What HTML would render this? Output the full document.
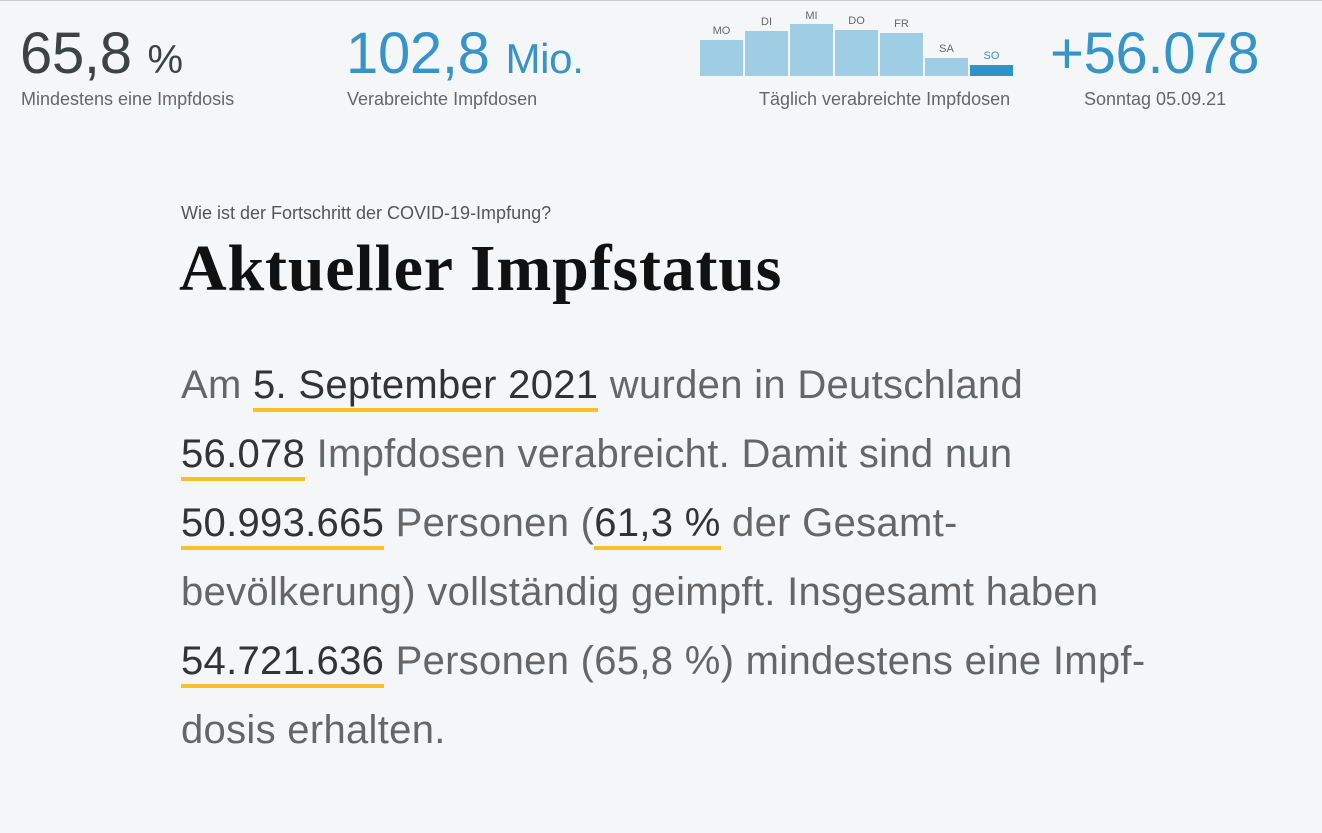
<!DOCTYPE html>
<html><head><meta charset="utf-8"><style>
body{margin:0;width:1322px;height:833px;background:#f5f6f8;font-family:"Liberation Sans",sans-serif;position:relative;overflow:hidden;border-top:1px solid #ccc;box-sizing:border-box}
.a{position:absolute;white-space:nowrap}
.big{font-size:58px;line-height:58px;letter-spacing:-0.3px}
.lbl{font-size:18px;color:#666}
.bar{position:absolute;background:#9ecde4;bottom:757px}
.bl{position:absolute;font-size:11px;color:#666;text-align:center;width:43px}
.t{position:absolute;left:181px;font-size:40px;color:#666;white-space:nowrap;letter-spacing:0.3px}
.u{color:#333;border-bottom:4px solid #fbbf2a;padding-bottom:1px}
</style></head><body>
<div class="a big" style="left:20px;top:24px;color:#3b4345">65,8 <span style="font-size:40px">%</span></div>
<div class="a lbl" style="left:21px;top:88px">Mindestens eine Impfdosis</div>
<div class="a big" style="left:346px;top:24px;color:#3694c8">102,8 <span style="font-size:42px">Mio.</span></div>
<div class="a lbl" style="left:347px;top:88px">Verabreichte Impfdosen</div>
<div class="bar" style="left:700px;width:43px;height:36px"></div>
<div class="bar" style="left:745px;width:43px;height:45px"></div>
<div class="bar" style="left:790px;width:43px;height:52px"></div>
<div class="bar" style="left:835px;width:43px;height:46px"></div>
<div class="bar" style="left:880px;width:43px;height:43px"></div>
<div class="bar" style="left:925px;width:43px;height:18px"></div>
<div class="bar" style="left:970px;width:43px;height:11px;background:#3192c6"></div>
<div class="bl" style="left:700px;top:24px">MO</div>
<div class="bl" style="left:745px;top:15px">DI</div>
<div class="bl" style="left:790px;top:9px">MI</div>
<div class="bl" style="left:835px;top:14px">DO</div>
<div class="bl" style="left:880px;top:17px">FR</div>
<div class="bl" style="left:925px;top:42px">SA</div>
<div class="bl" style="left:970px;top:49px;color:#3192c6">SO</div>
<div class="a lbl" style="left:759px;top:88px">Täglich verabreichte Impfdosen</div>
<div class="a big" style="left:1050px;top:24px;color:#3694c8">+56.078</div>
<div class="a lbl" style="left:1084px;top:88px">Sonntag 05.09.21</div>
<div class="a" style="left:181px;top:202px;font-size:18px;color:#555">Wie ist der Fortschritt der COVID-19-Impfung?</div>
<div class="a" style="left:179px;top:230px;font-family:'Liberation Serif',serif;font-weight:bold;font-size:66px;letter-spacing:0.8px;color:#111">Aktueller Impfstatus</div>
<div class="t" style="top:362px">Am <span class="u">5. September 2021</span> wurden in Deutschland</div>
<div class="t" style="top:431px"><span class="u">56.078</span> Impfdosen verabreicht. Damit sind nun</div>
<div class="t" style="top:500px"><span class="u">50.993.665</span> Personen (<span class="u">61,3 %</span> der Gesamt-</div>
<div class="t" style="top:569px">bevölkerung) vollständig geimpft. Insgesamt haben</div>
<div class="t" style="top:638px"><span class="u">54.721.636</span> Personen (65,8 %) mindestens eine Impf-</div>
<div class="t" style="top:707px">dosis erhalten.</div>
</body></html>
